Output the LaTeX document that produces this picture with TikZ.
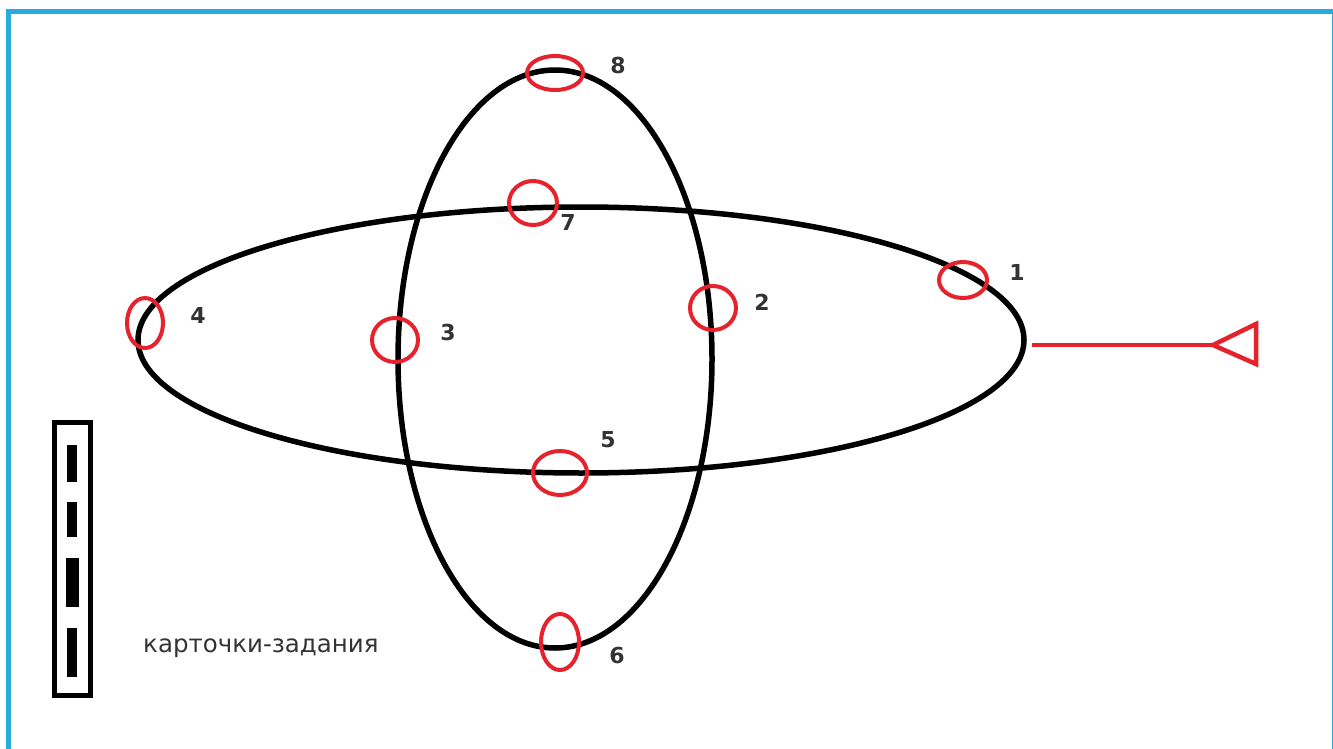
\documentclass[tikz,border=0pt]{standalone}
\usepackage{fontspec}
\setmainfont{DejaVu Sans}
\usetikzlibrary{shapes.geometric}
\definecolor{frameblue}{RGB}{41,171,226}
\definecolor{ringred}{RGB}{230,34,44}
\definecolor{labelgray}{RGB}{51,51,51}

\begin{document}
\begin{tikzpicture}[x=1pt, y=-1pt,
  bigring/.style={ellipse, draw=black, line width=5.5pt, inner sep=0pt},
  ring/.style={ellipse, draw=ringred, line width=4pt, inner sep=0pt},
  num/.style={font=\bfseries\fontsize{22}{26}\selectfont, text=labelgray, inner sep=0pt},
  redline/.style={draw=ringred, line width=4.5pt}]

\useasboundingbox (0,0) rectangle (1333,749);

% frame
\draw[frameblue, line width=4.5pt, line join=miter] (8.5,749) -- (8.5,11.5) -- (1334,11.5) -- (1334,749);

% the two tracks
\node[bigring, minimum width=886pt, minimum height=266pt] (track) at (581,340) {};
\node[bigring, minimum width=314pt, minimum height=578pt] (loop) at (555,359) {};

% red rings and their numbers
\foreach \i/\rx/\ry/\w/\h/\lx/\ly in {1/963/280/48/36/1017/272, 2/713/308/46/44/762/302,
    3/395/340/46/44/448/332, 4/145/323/36/50/198/315, 5/560/473/54/44/608/440,
    6/560/642/38/56/617/655, 7/533/203/48/44/568/222, 8/555/73/56/34/618/65} {
  \node[ring, minimum width=\w pt, minimum height=\h pt] (r\i) at (\rx,\ry) {};
  \node[num] (n\i) at (\lx,\ly) {\i};
}

% start line with flag
\coordinate (tail) at (1032,345);
\coordinate (tip) at (1213,345);
\draw[redline] (tail) -- (tip);
\draw[redline, line join=miter] (tip) -- (1256,324) -- (1256,364) -- cycle;

% card holder
\draw[line width=5pt] (54.5,422.5) rectangle (90.5,695.5);
\foreach \top/\bot/\wd in {445/482/10, 502/537/10, 558/607/13, 628/677/10}
  \fill (72-\wd/2,\top) rectangle (72+\wd/2,\bot);

\node[font=\fontsize{24.5}{30}\selectfont, text=labelgray, anchor=west, inner sep=0pt] (cards) at (143,648) {карточки-задания};

\end{tikzpicture}
\end{document}
